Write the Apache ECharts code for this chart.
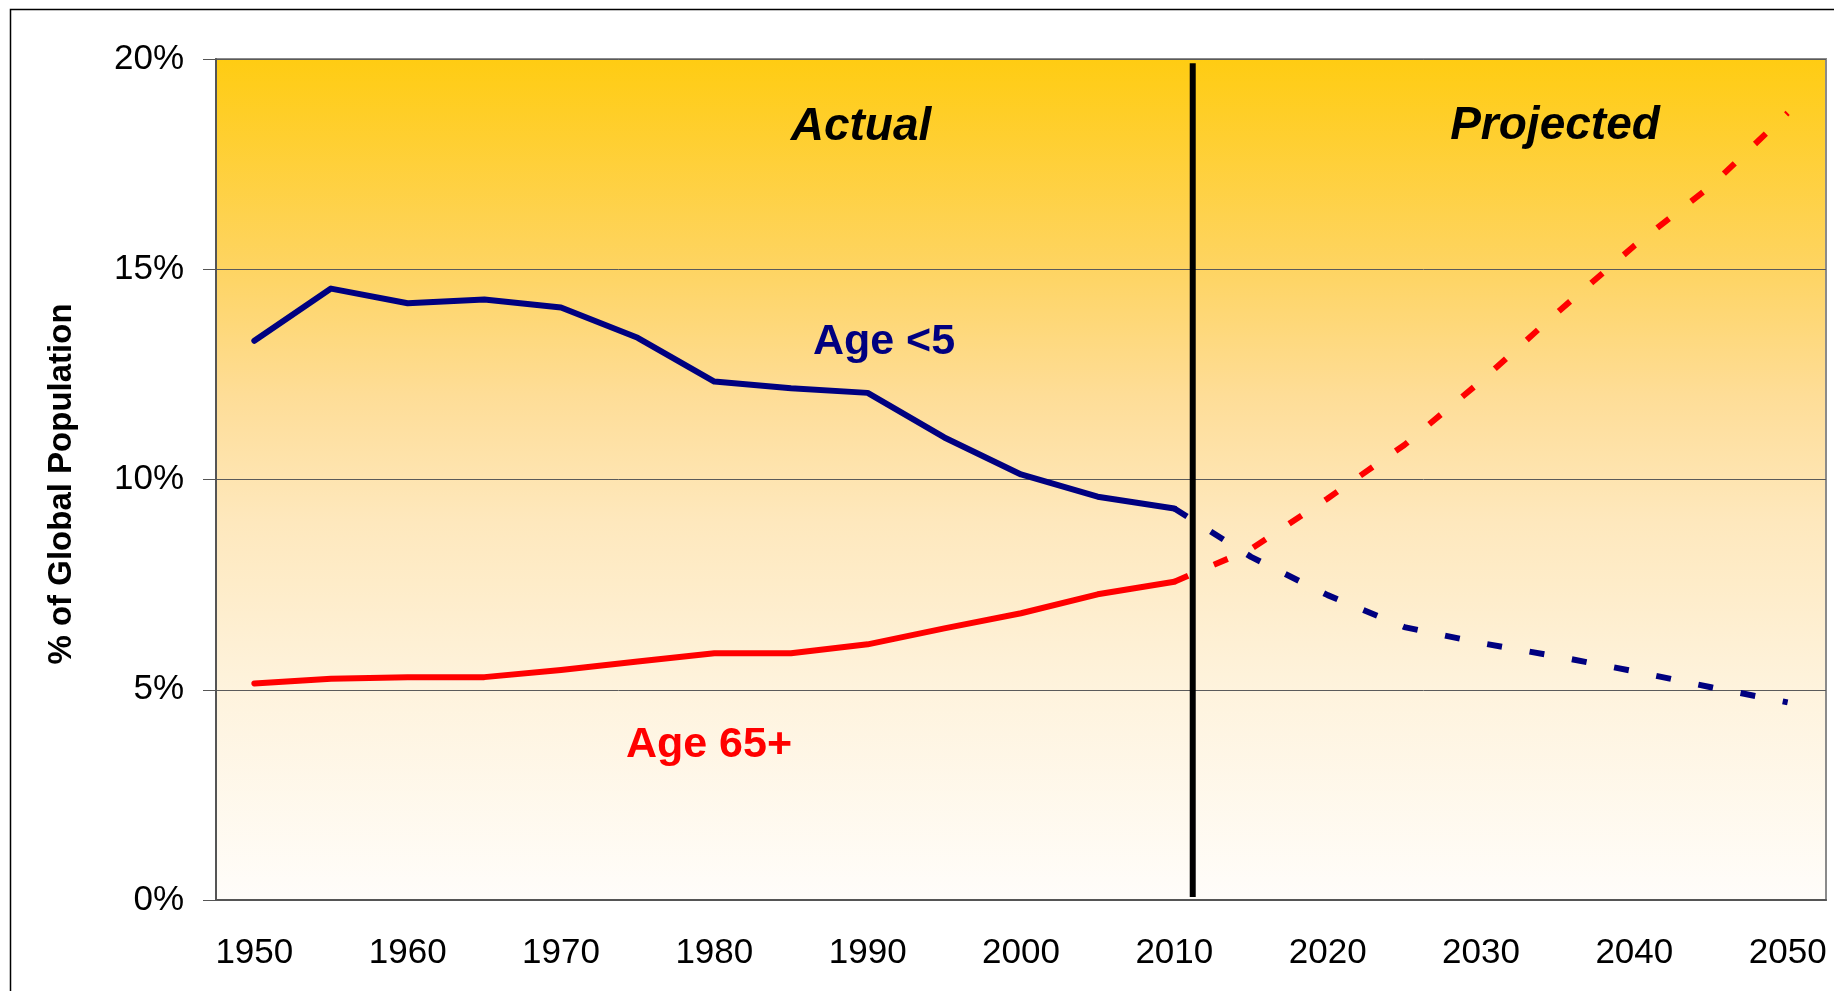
<!DOCTYPE html>
<html>
<head>
<meta charset="utf-8">
<script src="https://cdn.jsdelivr.net/npm/echarts@6/dist/echarts.min.js"></script>
<style>
  html, body { margin: 0; padding: 0; background: #fff; }
  #chart { width: 1834px; height: 991px; }
</style>
</head>
<body>
<div id="chart"></div>
<script>
// population share by age group, % of global population (5-year steps)
const years = ['1950', '1955', '1960', '1965', '1970', '1975', '1980', '1985', '1990', '1995', '2000',
  '2005', '2010', '2015', '2020', '2025', '2030', '2035', '2040', '2045', '2050'];
const under5 = [13.30, 14.54, 14.19, 14.28, 14.09, 13.37, 12.33, 12.17, 12.06, 11.00, 10.12,
  9.59, 9.31, 8.16, 7.25, 6.49, 6.11, 5.79, 5.44, 5.06, 4.70];
const over65 = [5.15, 5.26, 5.30, 5.30, 5.47, 5.67, 5.87, 5.87, 6.08, 6.46, 6.82,
  7.27, 7.57, 8.35, 9.55, 10.82, 12.34, 13.98, 15.56, 16.98, 18.72];
const lastActualYear = '2010';

// "actual | projected" divider, in year units on a hidden value axis
const dividerYear = [2011.2, 2011.2];
const dividerSpan = [0.07, 19.9];

const font = "'Liberation Sans', Arial, sans-serif";
const cut = years.indexOf(lastActualYear);
const actualPart = (vals) => vals.map((v, i) => (i <= cut ? v : null));
const projectedPart = (vals) => vals.map((v, i) => (i >= cut ? v : null));

const chart = echarts.init(document.getElementById('chart'));

const lineSeries = (name, data, color, dashed) => ({
  name: name,
  type: 'line',
  data: data,
  symbol: 'none',
  connectNulls: false,
  z: 3,
  lineStyle: {
    color: color,
    width: 6,
    type: dashed ? [15, 28] : 'solid',
    cap: dashed ? 'butt' : 'round',
    join: 'round',
  },
});

const option = {
  animation: false,
  backgroundColor: '#ffffff',
  grid: {
    left: 216,
    top: 59,
    width: 1610,
    height: 841,
    show: true,
    borderColor: '#8a8a8a',
    borderWidth: 2,
    backgroundColor: new echarts.graphic.LinearGradient(0, 0, 0, 1, [
      { offset: 0, color: '#ffcc12' },
      { offset: 0.25, color: '#fed462' },
      { offset: 0.4, color: '#fedd97' },
      { offset: 0.55, color: '#fee8bd' },
      { offset: 0.75, color: '#fef3dd' },
      { offset: 1, color: '#fffdfa' },
    ]),
  },
  xAxis: [
    {
      type: 'category',
      data: years,
      boundaryGap: true,
      axisLine: { lineStyle: { color: '#555', width: 2 } },
      axisTick: { interval: 1, length: 12, lineStyle: { color: '#555', width: 1 } },
      axisLabel: {
        interval: 1,
        margin: 36,
        color: '#000',
        fontFamily: font,
        fontSize: 35,
      },
      splitLine: { show: false },
    },
    {
      type: 'value',
      min: 1947.5,
      max: 2052.5,
      show: false,
    },
  ],
  yAxis: {
    type: 'value',
    min: 0,
    max: 20,
    interval: 5,
    axisLine: { show: true, lineStyle: { color: '#555', width: 2 } },
    axisTick: { show: true, length: 13, lineStyle: { color: '#555', width: 1 } },
    axisLabel: {
      formatter: '{value}%',
      margin: 32,
      color: '#000',
      fontFamily: font,
      fontSize: 35,
    },
    splitLine: { lineStyle: { color: '#5a5a5a', width: 1 } },
  },
  series: [
    lineSeries('Age <5', actualPart(under5), '#000080', false),
    lineSeries('Age <5 projected', projectedPart(under5), '#000080', true),
    lineSeries('Age 65+', actualPart(over65), '#ff0000', false),
    lineSeries('Age 65+ projected', projectedPart(over65), '#ff0000', true),
    {
      name: 'divider',
      type: 'line',
      xAxisIndex: 1,
      data: dividerYear.map((x, i) => [x, dividerSpan[i]]),
      symbol: 'none',
      z: 5,
      lineStyle: { color: '#000', width: 6, cap: 'butt' },
    },
  ],
  graphic: [
    {
      type: 'rect',
      shape: { x: 10.5, y: 9.5, width: 2000, height: 2000 },
      style: { fill: 'none', stroke: '#000', lineWidth: 1.5 },
      silent: true,
    },
    {
      type: 'text',
      x: 62,
      y: 484,
      rotation: Math.PI / 2,
      style: {
        text: '% of Global Population',
        fontFamily: font,
        fontWeight: 'bold',
        fontSize: 33,
        fill: '#000',
        align: 'center',
        verticalAlign: 'middle',
      },
    },
    {
      type: 'text',
      x: 861,
      y: 127,
      style: {
        text: 'Actual',
        fontFamily: font,
        fontWeight: 'bold',
        fontStyle: 'italic',
        fontSize: 46,
        fill: '#000',
        align: 'center',
        verticalAlign: 'middle',
      },
    },
    {
      type: 'text',
      x: 1555,
      y: 126,
      style: {
        text: 'Projected',
        fontFamily: font,
        fontWeight: 'bold',
        fontStyle: 'italic',
        fontSize: 46,
        fill: '#000',
        align: 'center',
        verticalAlign: 'middle',
      },
    },
    {
      type: 'text',
      x: 884,
      y: 342,
      style: {
        text: 'Age <5',
        fontFamily: font,
        fontWeight: 'bold',
        fontSize: 43,
        fill: '#000080',
        align: 'center',
        verticalAlign: 'middle',
      },
    },
    {
      type: 'text',
      x: 709,
      y: 745,
      style: {
        text: 'Age 65+',
        fontFamily: font,
        fontWeight: 'bold',
        fontSize: 43,
        fill: '#ff0000',
        align: 'center',
        verticalAlign: 'middle',
      },
    },
  ],
};

chart.setOption(option);
</script>
</body>
</html>
